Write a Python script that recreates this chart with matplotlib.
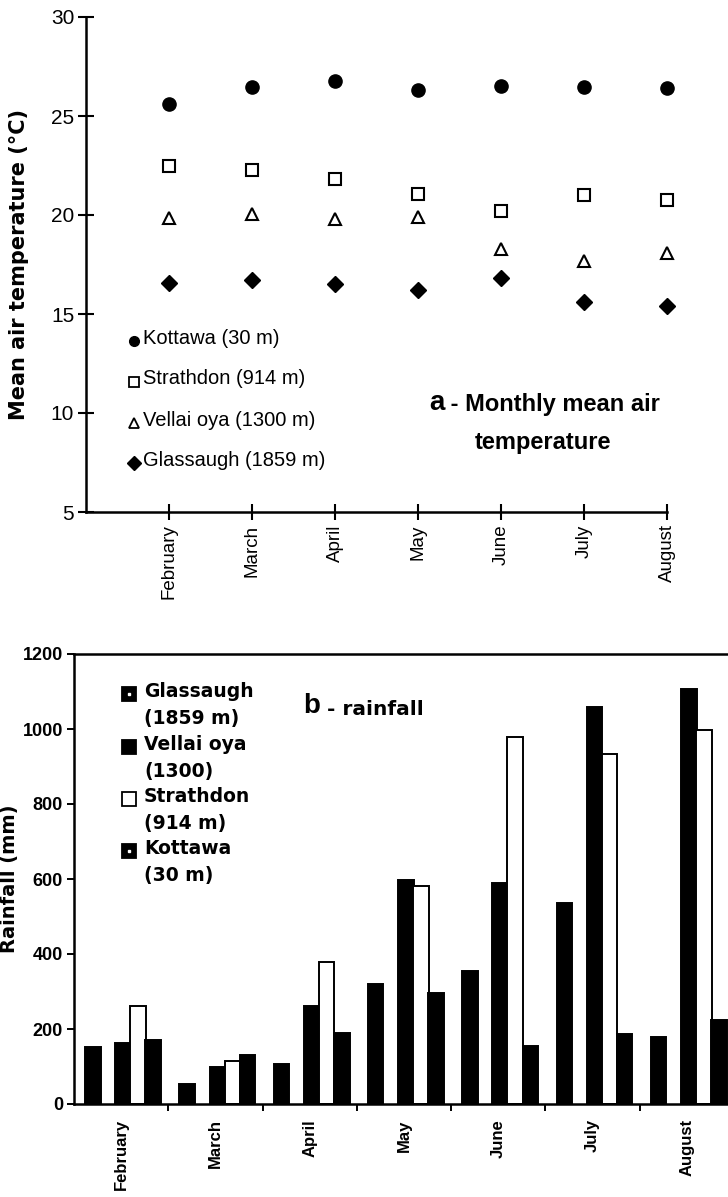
import matplotlib
matplotlib.use("Agg")
import matplotlib.pyplot as plt
from matplotlib import font_manager as fm
import numpy as np

# ---------------- data ----------------
months = ["February", "March", "April", "May", "June", "July", "August"]

temp_kottawa   = [25.6, 26.45, 26.75, 26.3, 26.5, 26.45, 26.4]
temp_strathdon = [22.5, 22.25, 21.8, 21.05, 20.2, 21.0, 20.75]
temp_vellai    = [19.85, 20.05, 19.8, 19.9, 18.3, 17.7, 18.1]
temp_glassaugh = [16.55, 16.7, 16.5, 16.2, 16.8, 15.6, 15.4]

rain_glassaugh = [153, 53, 106, 320, 354, 537, 179]
rain_vellai    = [162, 99, 261, 597, 589, 1060, 1106]
rain_strathdon = [261, 116, 380, 581, 979, 934, 998]
rain_kottawa   = [172, 132, 189, 295, 155, 188, 224]

temp_labels = ["Kottawa (30 m)", "Strathdon (914 m)", "Vellai oya (1300 m)", "Glassaugh (1859 m)"]
rain_labels = ["Glassaugh\n(1859 m)", "Vellai oya\n(1300)", "Strathdon\n(914 m)", "Kottawa\n(30 m)"]

# ---------------- fonts ----------------
names = {f.name for f in fm.fontManager.ttflist}
ARIAL = "Liberation Sans" if "Liberation Sans" in names else "DejaVu Sans"
NARROW = "Liberation Sans Narrow" if "Liberation Sans Narrow" in names else ARIAL
WIDE = "DejaVu Sans"
plt.rcParams["font.family"] = [ARIAL, "DejaVu Sans"]

W, H = 728, 1197
fig = plt.figure(figsize=(W / 100, H / 100), dpi=100)

def px_axes(x0, x1, ytop, ybot):
    return [x0 / W, 1 - ybot / H, (x1 - x0) / W, (ybot - ytop) / H]

# ================= top chart =================
ax1 = fig.add_axes(px_axes(86, 667, 17, 512))
x = np.arange(1, len(months) + 1)
ax1.plot(x, temp_kottawa, ls="none", marker="o", ms=9.5, mfc="black", mec="black", clip_on=False)
ax1.plot(x, temp_strathdon, ls="none", marker="s", ms=8, mfc="white", mec="black", mew=1.5, clip_on=False)
ax1.plot(x, temp_vellai, ls="none", marker="^", ms=8, mfc="white", mec="black", mew=1.5, clip_on=False)
ax1.plot(x, temp_glassaugh, ls="none", marker="D", ms=8.5, mfc="black", mec="black", clip_on=False)

ax1.set_xlim(0, 7)
ax1.set_ylim(5, 30)
ax1.set_yticks(np.arange(5, 31, 5))
ax1.set_xticks(x)
ax1.set_xticklabels(months, rotation=90, fontsize=13.5, family=[ARIAL, "DejaVu Sans"])
ax1.tick_params(axis="y", direction="inout", length=12, width=1.5, labelsize=15, pad=2.5)
ax1.tick_params(axis="x", direction="inout", length=12, width=1.5, pad=3)
for s in ("top", "right"):
    ax1.spines[s].set_visible(False)
for s in ("left", "bottom"):
    ax1.spines[s].set_linewidth(1.8)
ax1.set_ylabel("Mean air temperature (°C)", fontsize=15, fontweight="bold", family=[WIDE])
ax1.yaxis.set_label_coords((29 - 86) / 581, 0.5)

# legend (manual)
def ax1_xy(px, py):
    return ((px - 86) / 581, (512 - py) / 495)

leg_rows = [338, 379, 420, 460]
leg_styles = [dict(marker="o", ms=7, mfc="black", mec="black"),
              dict(marker="s", ms=6.5, mfc="white", mec="black", mew=1.3),
              dict(marker="^", ms=6.5, mfc="white", mec="black", mew=1.3),
              dict(marker="D", ms=7, mfc="black", mec="black")]
for lab, py, st in zip(temp_labels, leg_rows, leg_styles):
    mx, my = ax1_xy(134, py + 3)
    ax1.plot([mx], [my], transform=ax1.transAxes, clip_on=False, ls="none", **st)
    tx, ty = ax1_xy(143, py)
    ax1.text(tx, ty, lab, transform=ax1.transAxes, fontsize=14.5, family=[NARROW],
             va="center", ha="left")

# title
tx, ty = ax1_xy(429, 410)
ta = ax1.text(tx, ty, "a", transform=ax1.transAxes, fontsize=20, fontweight="bold",
              family=[ARIAL], va="baseline", ha="left")
ax1.annotate(" - Monthly mean air", xy=(1, 0), xycoords=ta, xytext=(0, 0),
             textcoords="offset points", fontsize=17, fontweight="bold",
             family=[NARROW], va="bottom", ha="left")
tx, ty = ax1_xy(543, 442)
ax1.text(tx, ty, "temperature", transform=ax1.transAxes, fontsize=17, fontweight="bold",
         family=[NARROW], va="center", ha="center")

# ================= bottom chart =================
ax2 = fig.add_axes(px_axes(74, 734, 654, 1104))
g = np.arange(len(months))
bw = 0.165
offsets = [0.2, 0.52, 0.68, 0.84]
series = [rain_glassaugh, rain_vellai, rain_strathdon, rain_kottawa]
faces = ["black", "black", "white", "black"]
for vals, off, fc in zip(series, offsets, faces):
    ax2.bar(g + off, vals, width=bw, color=fc, edgecolor="black", linewidth=1.4)

ax2.set_xlim(0, 7)
ax2.set_ylim(0, 1200)
ax2.set_yticks(np.arange(0, 1201, 200))
ax2.set_xticks(np.arange(1, 8))
ax2.set_xticklabels([])
ax2.set_xticks(g + 0.5, minor=True)
ax2.set_xticklabels(months, minor=True, rotation=90, fontsize=12, fontweight="bold")
ax2.tick_params(axis="x", which="major", direction="out", length=5, width=1.4)
ax2.tick_params(axis="x", which="minor", length=0, pad=11)
ax2.tick_params(axis="y", direction="out", length=5, width=1.4, labelsize=13, pad=3)
for lab in ax2.get_yticklabels():
    lab.set_fontweight("bold")
for s in ax2.spines.values():
    s.set_linewidth(1.8)
ax2.set_ylabel("Rainfall (mm)", fontsize=14, fontweight="bold", family=[WIDE])
ax2.yaxis.set_label_coords((19 - 74) / 660, 0.5)

def ax2_xy(px, py):
    return ((px - 74) / 660, (1104 - py) / 450)

rows = [690, 743, 795, 847]
for lab, py, fc, dot in zip(rain_labels, rows, faces, [True, False, False, True]):
    mx, my = ax2_xy(129, py + 4)
    ax2.plot([mx], [my], transform=ax2.transAxes, clip_on=False, ls="none",
             marker="s", ms=10, mfc=fc, mec="black", mew=1.3)
    if dot:
        ax2.plot([mx], [my], transform=ax2.transAxes, ls="none", marker="s", ms=1.6,
                 mfc="white", mec="white")
    tx, ty = ax2_xy(144, py + 15)
    ax2.text(tx, ty, lab, transform=ax2.transAxes, fontsize=13.5, fontweight="bold",
             family=[WIDE], va="center", ha="left", linespacing=1.55)

tx, ty = ax2_xy(303, 713)
tb = ax2.text(tx, ty, "b", transform=ax2.transAxes, fontsize=20, fontweight="bold",
              family=[ARIAL], va="baseline", ha="left")
ax2.annotate(" - rainfall", xy=(1, 0), xycoords=tb, xytext=(0, 0),
             textcoords="offset points", fontsize=14.5, fontweight="bold",
             family=[WIDE], va="bottom", ha="left")

fig.savefig("out.png", dpi=100)
